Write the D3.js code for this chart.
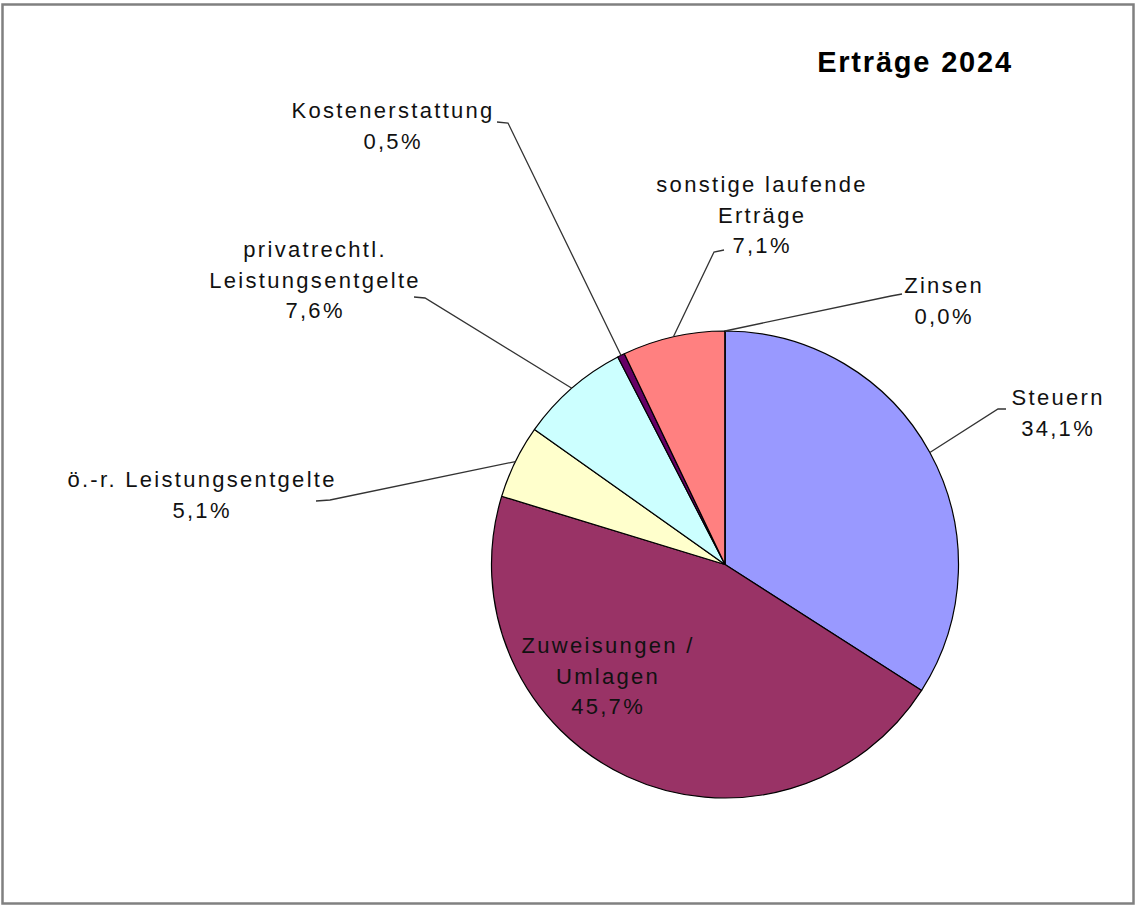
<!DOCTYPE html>
<html>
<head>
<meta charset="utf-8">
<script src="https://cdn.jsdelivr.net/npm/d3@7"></script>
<style>
  body { margin: 0; background: #fff; }
  svg text { font-family: "Liberation Sans", Arial, sans-serif; fill: #111; }
</style>
</head>
<body>
<div id="chart"></div>
<script>
// data
const title = "Erträge 2024";
const categories = ["Steuern", "Zuweisungen /\nUmlagen", "ö.-r. Leistungsentgelte",
    "privatrechtl.\nLeistungsentgelte", "Kostenerstattung", "sonstige laufende\nErträge", "Zinsen"];
const shares = [34.1, 45.7, 5.1, 7.6, 0.5, 7.1, 0.0];
const colors = ["#9999FF", "#993366", "#FFFFCC", "#CCFFFF", "#660066", "#FF8080", "#0066CC"];

// label placement (text centre x, first baseline y, elbow of leader, end of leader)
const labelLayout = [
    {x: 1057, y: 405, elbow: [998, 409], end: [1006, 409]},
    {x: 607, y: 653, elbow: null, end: null},
    {x: 201, y: 487, elbow: [330, 500], end: [316, 501]},
    {x: 314, y: 257, elbow: [425, 298], end: [414, 297]},
    {x: 392, y: 118, elbow: [508, 123], end: [497, 122]},
    {x: 761, y: 192, elbow: [714, 252], end: [724, 250]},
    {x: 943, y: 293, elbow: [891, 296], end: [902, 294]}
];

const width = 1137, height = 906;
const cx = 725, cy = 564.5, radius = 233.5;
const lineHeight = 30.5;

const de = d3.formatLocale({decimal: ",", thousands: ".", grouping: [3], currency: ["", " €"]});
const fmt = de.format(".1f");

const data = categories.map((c, i) => ({name: c, value: shares[i], color: colors[i], layout: labelLayout[i]}));

const svg = d3.select("#chart")
    .append("svg")
    .attr("width", width)
    .attr("height", height);

// frame
svg.append("rect")
    .attr("x", 2.5)
    .attr("y", 4.5)
    .attr("width", 1131)
    .attr("height", 899)
    .attr("fill", "#fff")
    .attr("stroke", "#808080")
    .attr("stroke-width", 2.5);

svg.append("text")
    .attr("x", 915)
    .attr("y", 72)
    .attr("text-anchor", "middle")
    .style("font-size", "29px")
    .style("font-weight", "bold")
    .style("letter-spacing", "1.8px")
    .style("fill", "#000")
    .text(title);

const pie = d3.pie()
    .sort(null)
    .value(d => d.value)
    .startAngle(0)
    .endAngle(2 * Math.PI);

const arc = d3.arc().innerRadius(0).outerRadius(radius);
const edge = d3.arc().innerRadius(radius).outerRadius(radius);

const g = svg.append("g")
    .attr("transform", `translate(${cx},${cy})`);

const arcs = pie(data);

g.selectAll("path.slice")
    .data(arcs)
    .join("path")
    .attr("class", "slice")
    .attr("d", arc)
    .attr("fill", d => d.data.color)
    .attr("stroke", "#000")
    .attr("stroke-width", 1.2)
    .attr("stroke-linejoin", "round");

// leader lines
arcs.forEach(d => {
    const L = d.data.layout;
    if (!L.elbow) return;
    const p = edge.centroid(d);
    svg.append("polyline")
        .attr("points", [[p[0] + cx, p[1] + cy], L.elbow, L.end].map(q => q.join(",")).join(" "))
        .attr("fill", "none")
        .attr("stroke", "#333")
        .attr("stroke-width", 1.3);
});

// labels
arcs.forEach(d => {
    const L = d.data.layout;
    const lines = d.data.name.split("\n").concat([fmt(d.data.value) + "%"]);
    const t = svg.append("text")
        .attr("text-anchor", "middle")
        .style("font-size", "22px")
        .style("letter-spacing", "2.3px");
    lines.forEach((s, i) => {
        t.append("tspan")
            .attr("x", L.x + 1.1)
            .attr("y", L.y + i * lineHeight)
            .text(s);
    });
});
</script>
</body>
</html>
